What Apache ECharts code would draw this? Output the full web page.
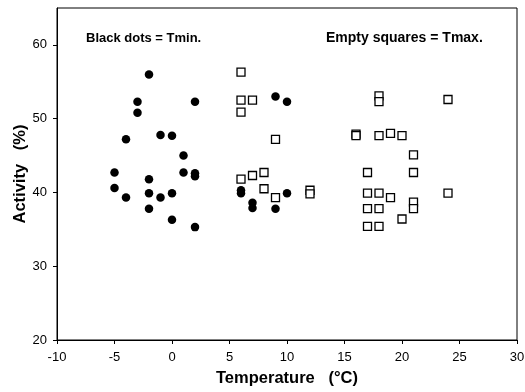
<!DOCTYPE html>
<html>
<head>
<meta charset="utf-8">
<script src="https://cdn.jsdelivr.net/npm/echarts@6/dist/echarts.min.js"></script>
<style>
  html, body { margin: 0; padding: 0; background: #fff; }
  #main { width: 525px; height: 392px; }
</style>
</head>
<body>
<div id="main"></div>
<script>
// Tmin points (black dots): [temperature, activity]
var tminPoints = [
  [-2, 56], [-3, 52.3], [-3, 50.8], [2, 52.3], [9, 53], [10, 52.3],
  [-4, 47.2], [-1, 47.8], [0, 47.7], [1, 45],
  [-5, 42.7], [-2, 41.8], [1, 42.7], [2, 42.6], [2, 42.2],
  [-5, 40.6], [-4, 39.3], [-2, 39.9], [-1, 39.3], [0, 39.9],
  [-2, 37.8], [0, 36.3], [2, 35.3],
  [6, 40.3], [6, 39.9], [7, 38.6], [7, 37.9], [9, 37.8], [10, 39.9]
];

// Tmax points (empty squares)
var tmaxPoints = [
  [6, 56.3], [6, 52.5], [7, 52.5], [6, 50.9], [9, 47.2],
  [18, 53.1], [18, 52.3], [24, 52.6],
  [16, 47.9], [16, 47.7], [18, 47.7], [19, 48.0], [20, 47.7], [21, 45.1],
  [17, 42.7], [21, 42.7],
  [6, 41.8], [7, 42.3], [8, 42.7], [8, 40.5], [9, 39.3],
  [12, 40.3], [12, 39.8],
  [17, 39.9], [18, 39.9], [19, 39.3], [21, 38.7], [21, 37.8], [24, 39.9],
  [17, 37.8], [18, 37.8], [20, 36.4], [17, 35.4], [18, 35.4]
];

var xTicks = [-10, -5, 0, 5, 10, 15, 20, 25, 30];
var yTicks = [20, 30, 40, 50, 60];

var myChart = echarts.init(document.getElementById('main'));

myChart.setOption({
  animation: false,
  backgroundColor: '#fff',
  textStyle: { fontFamily: 'Liberation Sans, Arial, sans-serif' },
  title: [
    {
      text: 'Black dots = Tmin.',
      left: 81, top: 27,
      textStyle: { fontSize: 13, fontWeight: 'bold', color: '#000', fontFamily: 'Liberation Sans' }
    },
    {
      text: 'Empty squares = Tmax.',
      left: 321, top: 26,
      textStyle: { fontSize: 14, fontWeight: 'bold', color: '#000', fontFamily: 'Liberation Sans' }
    }
  ],
  grid: {
    left: 57, right: 8, top: 8, bottom: 52,
    outerBoundsMode: 'none',
    containLabel: false,
    show: true, borderColor: '#000', borderWidth: 1, backgroundColor: '#fff'
  },
  xAxis: {
    type: 'value',
    min: xTicks[0], max: xTicks[xTicks.length - 1], interval: 5,
    name: 'Temperature   (°C)',
    nameLocation: 'middle',
    nameGap: 30,
    nameTextStyle: { fontSize: 16.5, fontWeight: 'bold', color: '#000', fontFamily: 'Liberation Sans' },
    splitLine: { show: false },
    axisLine: { onZero: false, lineStyle: { color: '#000', width: 1 } },
    axisTick: { length: 4, lineStyle: { color: '#000' } },
    axisLabel: { color: '#000', fontSize: 13, margin: 11, fontFamily: 'Liberation Sans' }
  },
  yAxis: {
    type: 'value',
    min: yTicks[0], max: 65, interval: 10,
    name: 'Activity   (%)',
    nameLocation: 'middle',
    nameGap: 28,
    nameMoveOverlap: false,
    nameTextStyle: { fontSize: 16.5, fontWeight: 'bold', color: '#000', fontFamily: 'Liberation Sans' },
    splitLine: { show: false },
    axisLine: { onZero: false, lineStyle: { color: '#000', width: 1 } },
    axisTick: { length: 4, lineStyle: { color: '#000' } },
    axisLabel: {
      color: '#000', fontSize: 13, margin: 10, fontFamily: 'Liberation Sans',
      showMaxLabel: false,
      formatter: function (v) { return yTicks.indexOf(v) >= 0 ? String(v) : ''; }
    }
  },
  series: [
    {
      name: 'Tmin',
      type: 'scatter',
      symbol: 'circle',
      symbolSize: 8.5,
      data: tminPoints,
      itemStyle: { color: '#000', opacity: 1 }
    },
    {
      name: 'Tmax',
      type: 'scatter',
      symbol: 'rect',
      symbolSize: 8,
      data: tmaxPoints,
      itemStyle: { color: '#fff', borderColor: '#000', borderWidth: 1.3, opacity: 1 }
    }
  ]
});
</script>
</body>
</html>
